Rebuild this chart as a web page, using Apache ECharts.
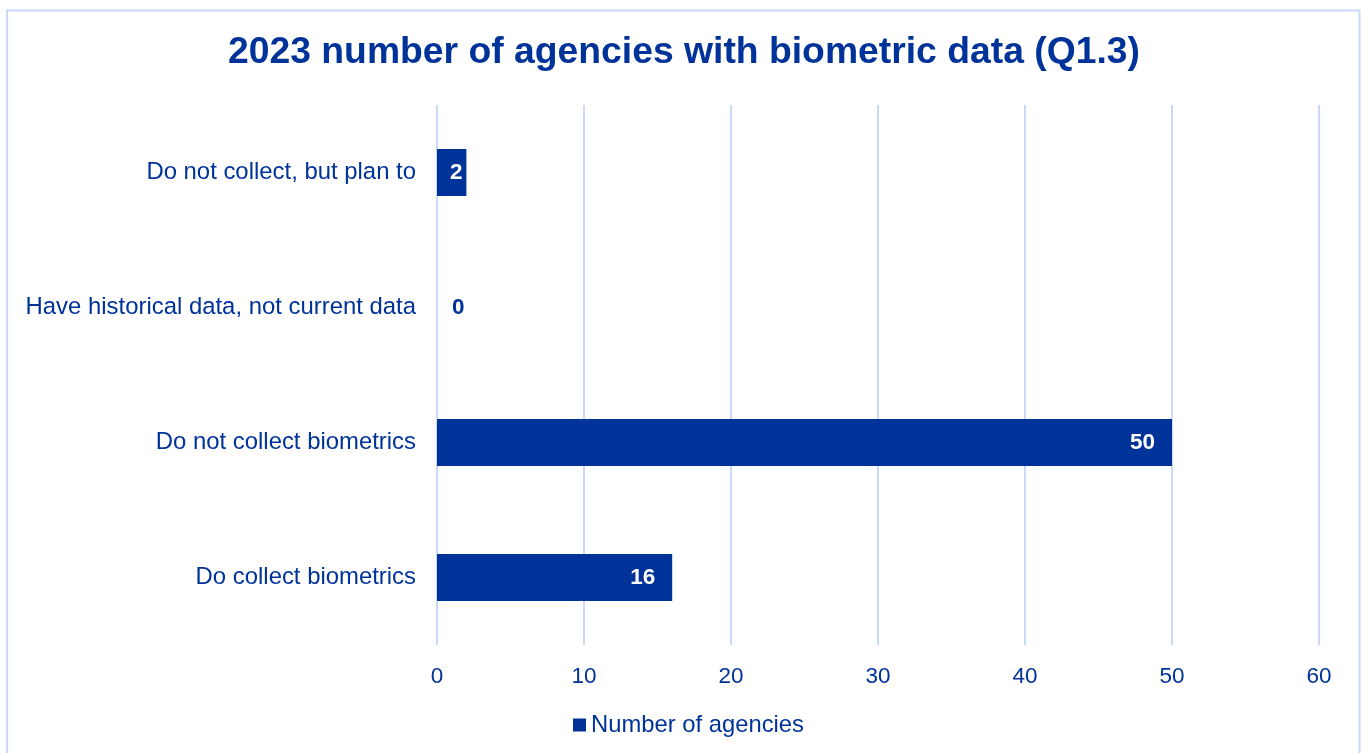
<!DOCTYPE html>
<html>
<head>
<meta charset="utf-8">
<script src="https://cdn.jsdelivr.net/npm/echarts@6/dist/echarts.min.js"></script>
<style>
  html, body { margin: 0; padding: 0; background: #fff; }
  #chart { width: 1362px; height: 753px; }
</style>
</head>
<body>
<div id="chart"></div>
<script>
// Survey responses, listed bottom-to-top as drawn on the category axis
const categories = [
  'Do collect biometrics',
  'Do not collect biometrics',
  'Have historical data, not current data',
  'Do not collect, but plan to'
];
const agencyCounts = [16, 50, 0, 2];
const seriesName = 'Number of agencies';
const titleText = '2023 number of agencies with biometric data (Q1.3)';

const navy = '#003399';
const gridBlue = '#C9DAF8';
const font = '"Liberation Sans", Arial, sans-serif';

const chart = echarts.init(document.getElementById('chart'), null, { renderer: 'canvas' });

// Zero-length bars get their label outside; very short bars keep it near the middle
function labelFor(v) {
  if (v === 0) return { position: 'right', distance: 15, color: navy };
  if (v < 5) return { distance: 4 };
  return undefined;
}

chart.setOption({
  animation: false,
  backgroundColor: '#ffffff',
  textStyle: { fontFamily: font },
  title: {
    text: titleText,
    left: 223,
    top: 29,
    textStyle: { fontFamily: font, fontSize: 37.3, fontWeight: 'bold', color: navy }
  },
  graphic: [{
    type: 'rect',
    shape: { x: 7, y: 10.5, width: 1352.5, height: 800 },
    style: { fill: 'none', stroke: gridBlue, lineWidth: 2 },
    silent: true
  }],
  legend: {
    bottom: 11,
    left: 568,
    icon: 'rect',
    itemWidth: 13,
    itemHeight: 13,
    itemGap: 6,
    textStyle: { fontFamily: font, fontSize: 23.8, color: navy },
    data: [seriesName]
  },
  grid: { left: 437, right: 43, top: 105, bottom: 108, containLabel: false },
  xAxis: {
    type: 'value',
    min: 0,
    max: 60,
    interval: 10,
    axisLine: { show: false },
    axisTick: { show: false },
    axisLabel: { fontFamily: font, fontSize: 22.5, color: navy, margin: 20 },
    splitLine: { show: true, lineStyle: { color: gridBlue, width: 2 } }
  },
  yAxis: {
    type: 'category',
    data: categories,
    axisLine: { show: false },
    axisTick: { show: false },
    axisLabel: { fontFamily: font, fontSize: 23.9, color: navy, margin: 21 }
  },
  series: [{
    name: seriesName,
    type: 'bar',
    barWidth: 47,
    itemStyle: { color: navy },
    data: agencyCounts.map(v => {
      const lbl = labelFor(v);
      return lbl ? { value: v, label: lbl } : { value: v };
    }),
    label: {
      show: true,
      position: 'insideRight',
      distance: 17,
      fontFamily: font,
      fontSize: 22.5,
      fontWeight: 'bold',
      color: '#ffffff'
    }
  }]
});
</script>
</body>
</html>
